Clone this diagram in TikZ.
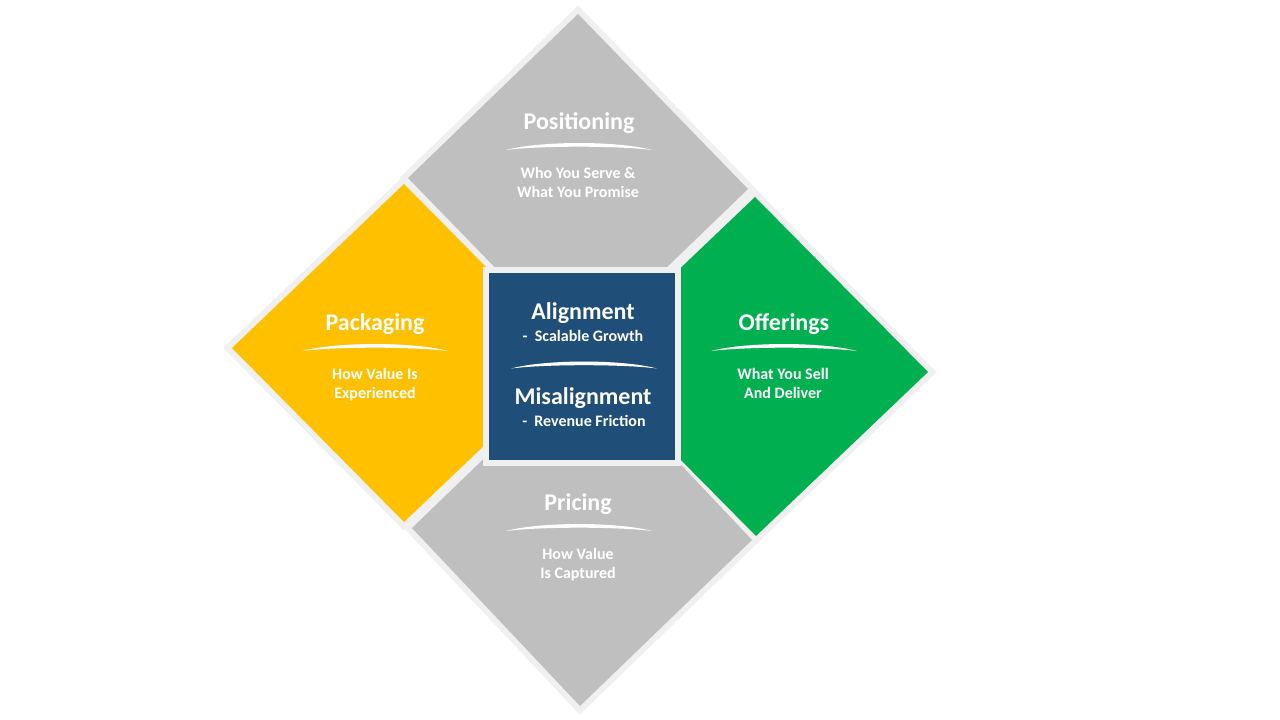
\documentclass[tikz,border=0pt]{standalone}
\usepackage{fontspec}
\setmainfont{Carlito}
\definecolor{bordergray}{HTML}{F0F0F0}
\definecolor{piecegray}{HTML}{BFBFBF}
\definecolor{pieceyellow}{HTML}{FFC000}
\definecolor{piecegreen}{HTML}{00B050}
\definecolor{centerblue}{HTML}{1F4E79}
\tikzset{
  pieceborder/.style={draw=bordergray, line width=9pt, line join=miter},
  titletext/.style={text=white, font=\fontsize{18}{21.6}\selectfont\bfseries, anchor=base, inner sep=0pt},
  subtext/.style={text=white, font=\fontsize{12}{14.25}\selectfont\bfseries, anchor=base, inner sep=0pt, align=center},
  swoosh/.pic={\fill[white] (-73,3.5) .. controls (-38,-5.8) and (38,-5.8) .. (73,3.5)
      .. controls (38,-0.9) and (-38,-0.9) .. (-73,3.5) -- cycle;}
}
\begin{document}
\begin{tikzpicture}[x=0.75pt,y=-0.75pt]
\useasboundingbox[fill=white] (0,0) rectangle (1280,720);
% piece outlines (borders first)
\path[pieceborder] (578,14) -- (748,189) -- (578,353) -- (408,178) -- cycle;
\path[pieceborder] (584,362) -- (752,540) -- (580,706) -- (412,528) -- cycle;
\path[pieceborder] (404,184) -- (576,358) -- (404,522) -- (232,348) -- cycle;
\path[pieceborder] (755,197) -- (928,372) -- (756,536) -- (583,361) -- cycle;
% piece fills
\fill[piecegray] (578,14) -- (748,189) -- (578,353) -- (408,178) -- cycle;
\fill[piecegray] (584,362) -- (752,540) -- (580,706) -- (412,528) -- cycle;
\fill[pieceyellow] (404,184) -- (576,358) -- (404,522) -- (232,348) -- cycle;
\fill[piecegreen] (755,197) -- (928,372) -- (756,536) -- (583,361) -- cycle;
% center square
\draw[fill=centerblue, draw=bordergray, line width=4.5pt] (486,270) rectangle (678,463);
% texts
\node[titletext] (postitle) at (579,129.5) {Positioning};
\pic at (579,146.5) {swoosh};
\node[subtext] (possub) at (578,198) {Who You Serve \&\\What You Promise};
\node[titletext] (packtitle) at (375,330.5) {Packaging};
\pic at (375,347.5) {swoosh};
\node[subtext] (packsub) at (375,398) {How Value Is\\Experienced};
\node[titletext] (offtitle) at (784,330.5) {Offerings};
\pic at (784,347.5) {swoosh};
\node[subtext] (offsub) at (783,398) {What You Sell\\And Deliver};
\node[titletext] (pricetitle) at (578,510.5) {Pricing};
\pic at (579,527.5) {swoosh};
\node[subtext] (pricesub) at (578,578) {How Value\\Is Captured};
\node[titletext] (aligntitle) at (583,319) {Alignment};
\node[subtext] (alignsub) at (583,341) {-~ Scalable Growth};
\pic at (584,365) {swoosh};
\node[titletext] (misaligntitle) at (583,404) {Misalignment};
\node[subtext] (misalignsub) at (584,426.5) {-~ Revenue Friction};
\end{tikzpicture}
\end{document}
